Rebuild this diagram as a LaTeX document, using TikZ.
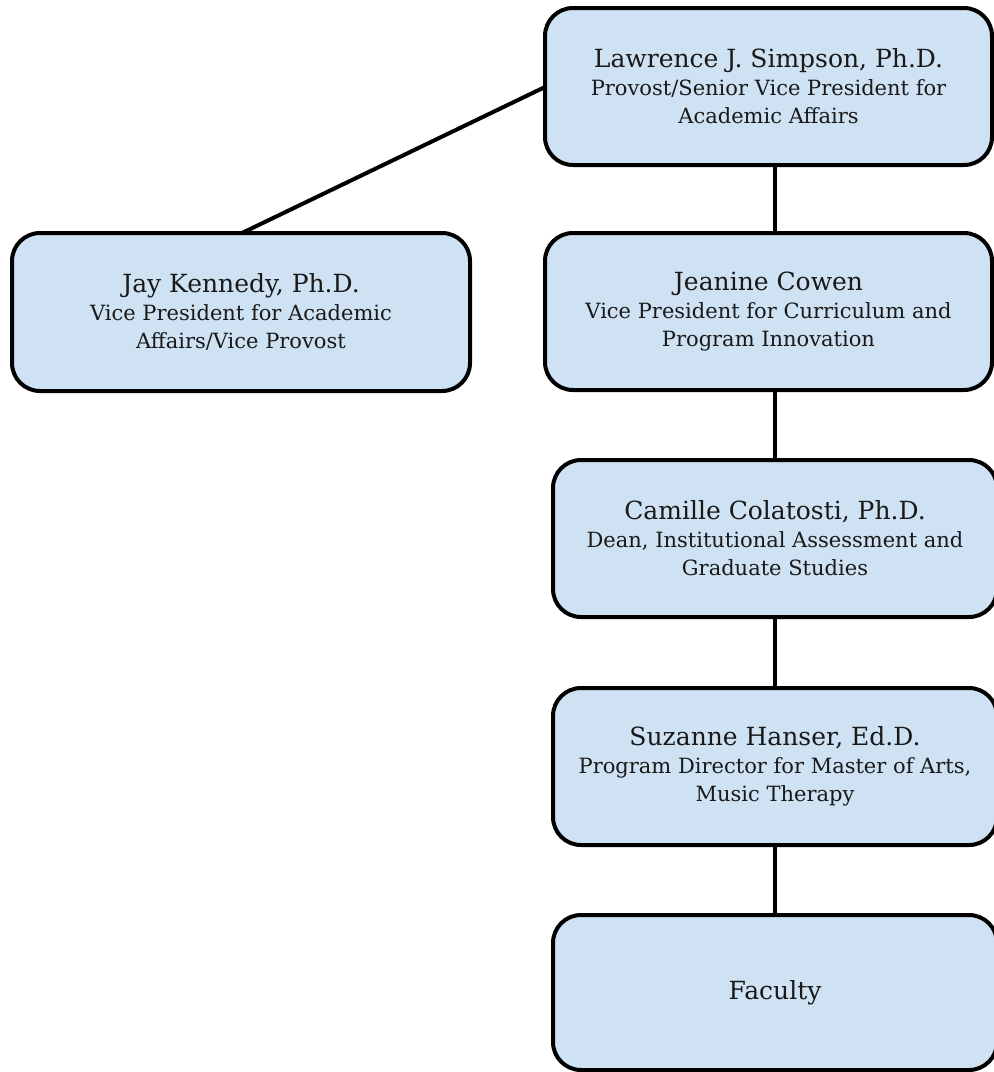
\documentclass[tikz,border=0pt]{standalone}
\usepackage{fontspec}
\setmainfont{DejaVu Serif}
\definecolor{boxfill}{HTML}{CFE2F3}
\newcommand{\ttlfont}{\fontsize{25}{28}\selectfont}
\begin{document}
\begin{tikzpicture}[x=1pt,y=-1pt,
  orgbox/.style={draw=black, line width=4pt, fill=boxfill, rounded corners=28pt,
    anchor=north west, outer sep=0pt, inner sep=0pt, align=center,
    font=\fontsize{21}{28}\selectfont, text=black!90},
  link/.style={draw=black, line width=4pt}]
\useasboundingbox (0,0) rectangle (994,1072);
\clip (0,0) rectangle (994,1072);
\node[orgbox, minimum width=447pt, minimum height=157pt] (simpson) at (545,8)
  {{\ttlfont Lawrence J. Simpson, Ph.D.}\\Provost/Senior Vice President for\\Academic Affairs};
\node[orgbox, minimum width=458pt, minimum height=158pt] (kennedy) at (12,233)
  {{\ttlfont Jay Kennedy, Ph.D.}\\Vice President for Academic\\Affairs/Vice Provost};
\node[orgbox, minimum width=447pt, minimum height=157pt] (cowen) at (545,233)
  {{\ttlfont Jeanine Cowen}\\Vice President for Curriculum and\\Program Innovation};
\node[orgbox, minimum width=444pt, minimum height=157pt] (colat) at (553,460)
  {{\ttlfont Camille Colatosti, Ph.D.}\\Dean, Institutional Assessment and\\Graduate Studies};
\node[orgbox, minimum width=444pt, minimum height=157pt] (hanser) at (553,688)
  {{\ttlfont Suzanne Hanser, Ed.D.}\\Program Director for Master of Arts,\\Music Therapy};
\node[orgbox, minimum width=444pt, minimum height=155pt] (faculty) at (553,915)
  {{\ttlfont Faculty}};
\coordinate (kjoin) at (242,233);
\path[link] (simpson.west |- 0,87) -- (kjoin);
\path[link] (simpson.south -| colat.north) -- (cowen.north -| colat.north);
\path[link] (cowen.south -| colat.north) -- (colat.north);
\path[link] (colat.south) -- (hanser.north);
\path[link] (hanser.south) -- (faculty.north);
\end{tikzpicture}
\end{document}
